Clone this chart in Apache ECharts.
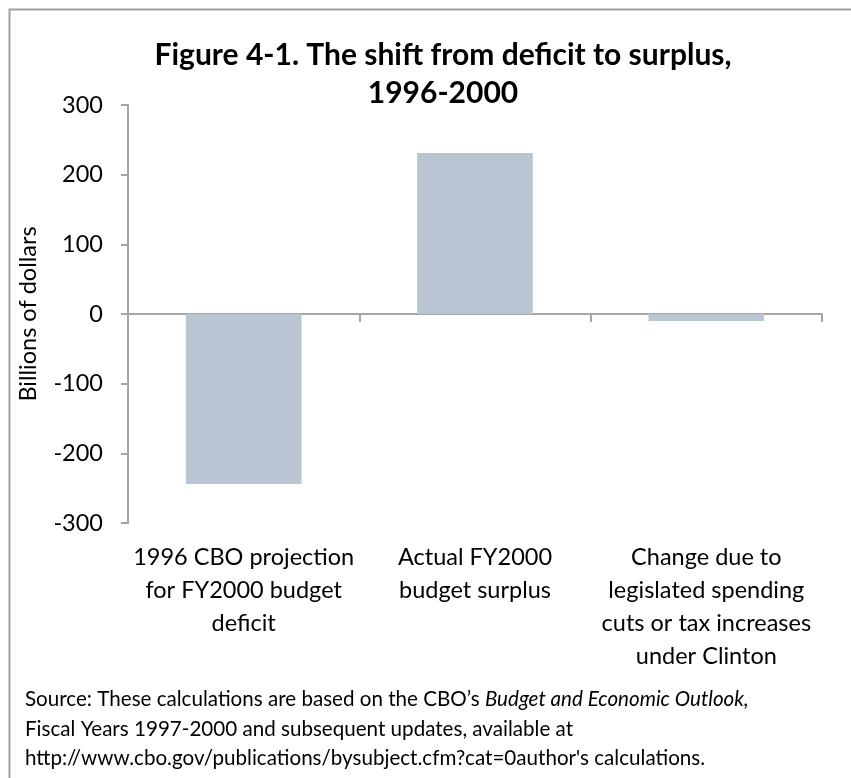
<!DOCTYPE html>
<html>
<head>
<meta charset="utf-8">
<title>Figure 4-1</title>
<script src="https://cdn.jsdelivr.net/npm/echarts@6/dist/echarts.min.js"></script>
<style>
  html, body { margin: 0; padding: 0; background: #ffffff; }
  #chart { width: 851px; height: 778px; }
</style>
</head>
<body>
<div id="chart"></div>
<script>
// Budget outcome categories and values (billions of dollars)
var categories = [
  '1996 CBO projection\nfor FY2000 budget\ndeficit',
  'Actual FY2000\nbudget surplus',
  'Change due to\nlegislated spending\ncuts or tax increases\nunder Clinton'
];
var values = [-244, 231, -10];

// Value axis settings
var yMin = -300;
var yMax = 300;
var yStep = 100;

var titleLines = 'Figure 4-1. The shift from deficit to surplus,\n1996-2000';
var yAxisName = 'Billions of dollars';
var sourceLines = [
  ['Source: These calculations are based on the CBO\u2019s ', 'Budget and Economic Outlook,'],
  ['Fiscal Years 1997-2000 and subsequent updates, available at', ''],
  ['http://www.cbo.gov/publications/bysubject.cfm?cat=0author\'s calculations.', '']
];

var FONT = 'Lato, "Open Sans", sans-serif';
var AXIS_COLOR = '#a6a6a6';
var BAR_COLOR = '#b9c5d2';
var LABEL_SIZE = 23.5;

var chart = echarts.init(document.getElementById('chart'), null, { renderer: 'canvas' });

// Source note under the plot, one text element per line
var sourceGraphics = sourceLines.map(function (line, i) {
  return {
    type: 'text',
    left: 25,
    top: 689 + i * 29.5,
    style: {
      text: '{n|' + line[0] + '}' + (line[1] ? '{i|' + line[1] + '}' : ''),
      rich: {
        n: { fontFamily: FONT, fontSize: 20.6, fill: '#000', lineHeight: 26 },
        i: { fontFamily: FONT, fontSize: 20.6, fontStyle: 'italic', fill: '#000', lineHeight: 26 }
      }
    }
  };
});

chart.setOption({
  animation: false,
  backgroundColor: '#ffffff',
  title: {
    text: titleLines,
    left: 438,
    textAlign: 'center',
    top: 31,
    textStyle: {
      fontFamily: FONT,
      fontWeight: 'bold',
      fontSize: 30,
      lineHeight: 38,
      color: '#000'
    }
  },
  graphic: [
    {
      type: 'rect',
      left: 7,
      top: 7,
      shape: { width: 900, height: 900 },
      style: { fill: 'none', stroke: '#a0a0a0', lineWidth: 2 },
      z: -10
    }
  ].concat(sourceGraphics),
  grid: {
    left: 128,
    right: 29,
    top: 105,
    bottom: 255,
    containLabel: false
  },
  xAxis: [
    {
      // zero line with category dividers
      type: 'category',
      data: categories,
      position: 'bottom',
      axisLine: { onZero: true, lineStyle: { color: AXIS_COLOR, width: 2 } },
      axisTick: { show: true, length: 8, lineStyle: { color: AXIS_COLOR, width: 2 } },
      axisLabel: { show: false }
    },
    {
      // category labels along the bottom of the plot
      type: 'category',
      data: categories,
      position: 'bottom',
      axisLine: { show: false, onZero: false },
      axisTick: { show: false },
      axisLabel: {
        show: true,
        interval: 0,
        margin: 18,
        fontFamily: FONT,
        fontSize: LABEL_SIZE,
        lineHeight: 33,
        color: '#000',
        align: 'center'
      }
    }
  ],
  yAxis: {
    type: 'value',
    min: yMin,
    max: yMax,
    interval: yStep,
    name: yAxisName,
    nameLocation: 'middle',
    nameGap: 88,
    nameRotate: 90,
    nameTextStyle: { fontFamily: FONT, fontSize: LABEL_SIZE, color: '#000' },
    axisLine: { show: true, lineStyle: { color: AXIS_COLOR, width: 2 } },
    axisTick: { show: true, length: 7, lineStyle: { color: AXIS_COLOR, width: 2 } },
    splitLine: { show: false },
    axisLabel: {
      margin: 25,
      fontFamily: FONT,
      fontSize: LABEL_SIZE,
      color: '#000'
    }
  },
  series: [
    {
      type: 'bar',
      xAxisIndex: 0,
      data: values,
      barWidth: '50%',
      itemStyle: { color: BAR_COLOR }
    }
  ]
});
</script>
</body>
</html>
